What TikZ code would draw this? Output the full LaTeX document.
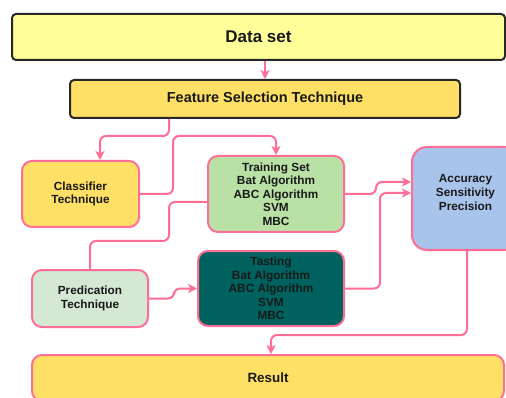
\documentclass[tikz,border=0pt]{standalone}
\usepackage{fontspec}
\setmainfont{Liberation Sans}
\usetikzlibrary{arrows.meta}
\definecolor{pinkc}{RGB}{255,110,150}
\definecolor{darkb}{RGB}{40,40,40}
\definecolor{dsfill}{RGB}{255,255,153}
\definecolor{gold}{RGB}{255,224,102}
\definecolor{grn}{RGB}{185,224,165}
\definecolor{blu}{RGB}{169,196,235}
\definecolor{pale}{RGB}{213,232,212}
\definecolor{teal2}{RGB}{0,98,94}
\definecolor{txt}{RGB}{25,25,25}
\begin{document}
\begin{tikzpicture}[x=1pt,y=1pt,
  box/.style={draw=pinkc, line width=2pt, rounded corners=10pt, align=center, inner sep=0pt,
    font=\bfseries\fontsize{11.8}{13.6}\selectfont, text=txt},
  topbox/.style={draw=darkb, line width=2pt, rounded corners=4pt, inner sep=0pt, text=txt},
  conn/.style={draw=pinkc, line width=2pt, rounded corners=6pt},
  arr/.style={conn, -{Stealth[length=9pt,width=9pt,inset=2.5pt]}}]
\useasboundingbox (0,0) rectangle (506,-398);
\clip (0,0) rectangle (506,-398);
\fill[white] (0,0) rectangle (506,-398);

\node[topbox, fill=dsfill, minimum width=493pt, minimum height=46pt,
  font=\bfseries\fontsize{17}{20}\selectfont] (data) at (258.5,-37) {Data set};
\node[topbox, fill=gold, minimum width=390pt, minimum height=38pt,
  font=\bfseries\fontsize{14.5}{16}\selectfont] (feat) at (265,-99) {Feature Selection Technique};

\node[box, fill=gold, minimum width=117pt, minimum height=66pt] (cls) at (80.5,-194) {Classifier\\Technique};
\node[box, fill=grn, minimum width=136pt, minimum height=76pt] (trn) at (276,-194)
  {Training Set\\Bat Algorithm\\ABC Algorithm\\SVM\\MBC};
\node[box, fill=blu, rounded corners=15pt, minimum width=107pt, minimum height=103pt] (acc) at (465.5,-198.5) {};
\node[align=center, inner sep=0pt, font=\bfseries\fontsize{11.8}{13.6}\selectfont, text=txt] (acct) at (465.5,-192.5)
  {Accuracy\\Sensitivity\\Precision};
\node[box, fill=pale, minimum width=116pt, minimum height=57pt] (pred) at (90,-298.5) {Predication\\Technique};
\node[box, fill=teal2, minimum width=146pt, minimum height=75pt] (tst) at (271,-288.5)
  {Tasting\\Bat Algorithm\\ABC Algorithm\\SVM\\MBC};
\node[box, fill=gold, minimum width=472pt, minimum height=46pt,
  font=\bfseries\fontsize{13.4}{16}\selectfont] (res) at (268,-378) {Result};

% connectors
\draw[arr] (feat.north |- data.south) -- (feat.north);
\draw[arr] ([xshift=-96pt]feat.south) |- ([xshift=19.5pt,yshift=24pt]cls.north) -- ([xshift=19.5pt]cls.north);
\draw[arr] (cls.east) -- ++(33,0) |- ([yshift=19pt]trn.north) -- (trn.north);
\draw[conn] ([yshift=-8pt]trn.west) -- ++(-38,0) |- ([yshift=28pt]pred.north) -- (pred.north);
\draw[arr] (pred.east) -- ++(25,0) |- (tst.west);
\draw[arr] (trn.east) -- ++(31,0) |- ([yshift=16.5pt]acc.west);
\draw[arr] (tst.east) -- ++(35,0) |- ([yshift=5.5pt]acc.west);
\draw[arr] ([xshift=1.5pt]acc.south) |- ([xshift=3pt,yshift=19pt]res.north) -- ([xshift=3pt]res.north);
\end{tikzpicture}
\end{document}
